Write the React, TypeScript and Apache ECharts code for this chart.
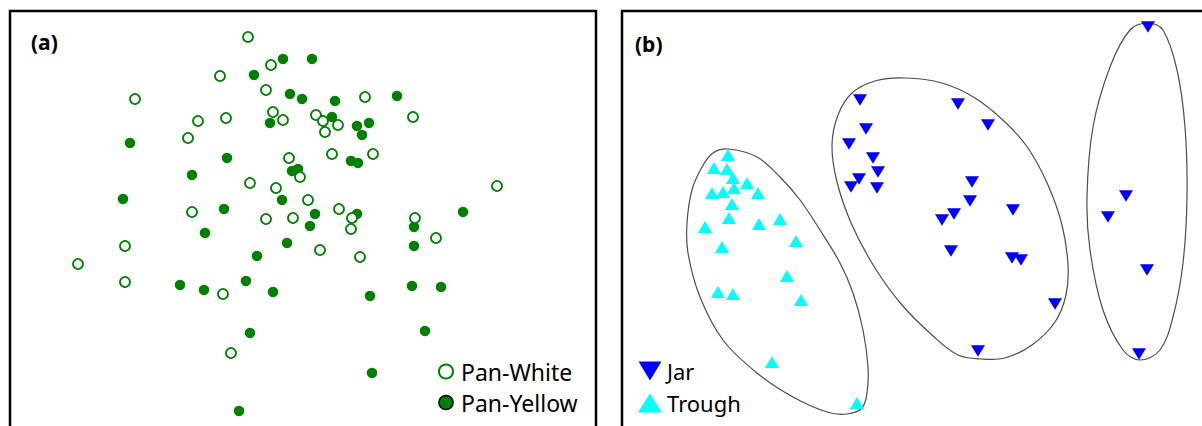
import React, { useEffect, useRef } from "react";
import * as echarts from "echarts";

// Panel (a): scores
const panWhite: number[][] = [
  [248, 37], [271, 65], [220, 76], [135, 99], [266, 90], [365, 97], [273, 112], [283, 120],
  [226, 118], [198, 121], [188, 138], [316, 115], [323, 121], [338, 125], [325, 132], [413, 117],
  [332, 154], [373, 154], [289, 158], [300, 177], [250, 183], [276, 188], [497, 186], [308, 200],
  [192, 212], [266, 219], [293, 218], [339, 209], [352, 218], [351, 229], [415, 218], [125, 246],
  [436, 238], [320, 250], [360, 257], [78, 264], [125, 282], [223, 294], [231, 353],
];
const panYellow: number[][] = [
  [283, 59], [312, 59], [254, 75], [290, 94], [302, 99], [335, 101], [397, 96], [270, 123],
  [332, 117], [357, 126], [369, 123], [362, 135], [130, 143], [227, 158], [351, 161], [358, 163],
  [292, 171], [298, 169], [192, 175], [123, 199], [282, 200], [224, 209], [463, 212], [315, 214],
  [357, 214], [310, 226], [414, 227], [205, 233], [287, 243], [414, 246], [257, 256], [246, 281],
  [180, 285], [204, 290], [273, 292], [412, 286], [441, 287], [370, 296], [250, 333], [425, 331],
  [372, 373], [239, 411],
];

// Panel (b)
const jar: number[][] = [
  [1148, 27], [860, 100], [958, 104], [988, 125], [866, 129], [849, 144], [873, 158], [878, 172],
  [859, 179], [851, 187], [877, 188], [972, 182], [970, 201], [954, 214], [942, 220], [1013, 210],
  [1126, 196], [1108, 217], [951, 251], [1012, 258], [1021, 260], [1147, 270], [1055, 304],
  [978, 351], [1139, 354],
];
const trough: number[][] = [
  [728, 155], [714, 168], [727, 169], [733, 178], [747, 183], [712, 193], [723, 192], [734, 188],
  [758, 193], [732, 204], [729, 218], [705, 227], [759, 224], [780, 219], [722, 247], [796, 241],
  [787, 276], [718, 292], [733, 294], [801, 300], [772, 362], [857, 403],
];

// Enclosure outlines (boundary points)
const enclosureTrough: number[][] = [
  [728, 149], [757, 157], [780, 177], [800, 200], [820, 230], [840, 263], [853, 293], [863, 330],
  [868, 367], [867, 393], [862, 408], [847, 414], [827, 412], [793, 397], [757, 373], [723, 340],
  [700, 297], [688, 253], [687, 223], [692, 190], [702, 167], [713, 153],
];
const enclosureJarA: number[][] = [
  [905, 78], [942, 83], [975, 98], [1005, 122], [1028, 148], [1048, 185], [1062, 225], [1068, 265],
  [1066, 295], [1055, 322], [1032, 345], [1005, 358], [982, 359], [958, 355], [932, 335], [902, 305],
  [875, 268], [852, 225], [837, 182], [832, 145], [838, 115], [852, 93], [875, 81],
];
const enclosureJarB: number[][] = [
  [1148, 23], [1163, 30], [1177, 70], [1185, 127], [1187, 197], [1183, 263], [1173, 317], [1160, 350],
  [1140, 360], [1123, 350], [1103, 310], [1090, 250], [1087, 197], [1093, 127], [1110, 67], [1130, 30],
];

const GREEN = "#008000";
const FONT = '"Noto Sans", "Open Sans", sans-serif';
const DOWN_TRI = "path://M0,0L23,0L11.5,19Z";

function enclosureSeries(ring: number[][]) {
  return {
    type: "custom",
    xAxisIndex: 1,
    yAxisIndex: 1,
    silent: true,
    data: ring,
    z: 1,
    renderItem: (params: any, api: any) => {
      if (params.dataIndex !== 0) return null;
      const pts = ring.map((p) => api.coord(p));
      return {
        type: "polygon",
        shape: { points: pts, smooth: 0.35 },
        style: { fill: "none", stroke: "#4d4d4d", lineWidth: 1.2 },
      };
    },
  };
}

export default function App() {
  const ref = useRef<HTMLDivElement>(null);
  useEffect(() => {
    if (!ref.current) return;
    const chart = echarts.init(ref.current, undefined, { renderer: "svg" });
    chart.setOption({
      animation: false,
      backgroundColor: "#fff",
      grid: [
        { left: 10, top: 11, width: 586, height: 414, show: false },
        { left: 622, top: 11, width: 580, height: 414, show: false },
      ],
      xAxis: [
        { type: "value", gridIndex: 0, min: 10, max: 596, show: false },
        { type: "value", gridIndex: 1, min: 622, max: 1202, show: false },
      ],
      yAxis: [
        { type: "value", gridIndex: 0, min: 11, max: 425, inverse: true, show: false },
        { type: "value", gridIndex: 1, min: 11, max: 425, inverse: true, show: false },
      ],
      legend: [
        {
          orient: "vertical",
          left: 433,
          top: 355,
          itemWidth: 20,
          itemHeight: 14,
          itemGap: 8,
          textStyle: { fontFamily: FONT, fontSize: 23, color: "#000" },
          data: [
            { name: "Pan-White", icon: "circle", itemStyle: { color: "#fff", borderColor: GREEN, borderWidth: 2 } },
            { name: "Pan-Yellow", icon: "circle", itemStyle: { color: GREEN, borderColor: "#000", borderWidth: 1.5 } },
          ],
        },
        {
          orient: "vertical",
          left: 633,
          top: 355,
          itemWidth: 24,
          itemHeight: 19,
          itemGap: 10,
          textStyle: { fontFamily: FONT, fontSize: 22, color: "#000" },
          data: [
            { name: "Jar", icon: DOWN_TRI, itemStyle: { color: "#0000ff", borderWidth: 0 } },
            { name: "Trough", icon: "triangle", itemStyle: { color: "#00ffff", borderWidth: 0 } },
          ],
        },
      ],
      graphic: [
        { type: "rect", silent: true, shape: { x: 10, y: 11, width: 586, height: 440 }, style: { fill: "none", stroke: "#000", lineWidth: 2.5 } },
        { type: "rect", silent: true, shape: { x: 622, y: 11, width: 600, height: 440 }, style: { fill: "none", stroke: "#000", lineWidth: 2.5 } },
        { type: "text", x: 31, y: 42, style: { text: "(a)", font: `bold 21px ${FONT}`, fill: "#000", textVerticalAlign: "middle" } },
        { type: "text", x: 635, y: 44, style: { text: "(b)", font: `bold 21px ${FONT}`, fill: "#000", textVerticalAlign: "middle" } },
      ],
      series: [
        {
          name: "Pan-Yellow",
          type: "scatter",
          xAxisIndex: 0,
          yAxisIndex: 0,
          symbol: "circle",
          symbolSize: 10.5,
          itemStyle: { color: GREEN, opacity: 1 },
          data: panYellow,
          z: 2,
        },
        {
          name: "Pan-White",
          type: "scatter",
          xAxisIndex: 0,
          yAxisIndex: 0,
          symbol: "circle",
          symbolSize: 10,
          itemStyle: { color: "#fff", borderColor: GREEN, borderWidth: 1.8, opacity: 1 },
          data: panWhite,
          z: 3,
        },
        enclosureSeries(enclosureTrough),
        enclosureSeries(enclosureJarA),
        enclosureSeries(enclosureJarB),
        {
          name: "Jar",
          type: "scatter",
          xAxisIndex: 1,
          yAxisIndex: 1,
          symbol: DOWN_TRI,
          symbolSize: [14, 11.5],
          itemStyle: { color: "#0000ff", opacity: 1 },
          data: jar,
          z: 3,
        },
        {
          name: "Trough",
          type: "scatter",
          xAxisIndex: 1,
          yAxisIndex: 1,
          symbol: "triangle",
          symbolSize: [14, 12],
          itemStyle: { color: "#00ffff", opacity: 1 },
          data: trough,
          z: 3,
        },
      ],
    });
    return () => chart.dispose();
  }, []);
  return (
    <div
      ref={ref}
      style={{ position: "absolute", left: 0, top: 0, width: 1202, height: 426, background: "#fff" }}
    />
  );
}
